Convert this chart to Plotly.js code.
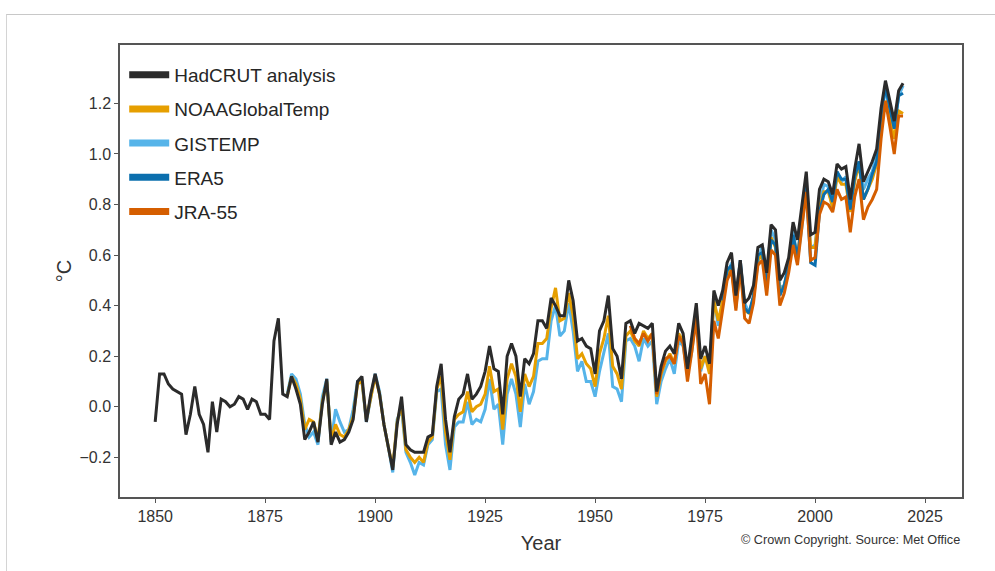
<!DOCTYPE html>
<html>
<head>
<meta charset="utf-8">
<script src="https://cdn.plot.ly/plotly-3.0.1.min.js"></script>
<style>
  html, body { margin: 0; padding: 0; background: #ffffff; }
  #wrap { position: relative; width: 995px; height: 571px; overflow: hidden; }
  #chart { position: absolute; left: 0; top: 0; width: 995px; height: 571px; }
  #edge { position: absolute; left: 6px; top: 14px; right: -2px; bottom: -2px;
          border-top: 1.5px solid #c8c8c8; border-left: 1.5px solid #d4d4d4;
          pointer-events: none; }
</style>
</head>
<body>
<div id="wrap">
  <div id="chart"></div>
  <div id="edge"></div>
</div>
<script>
// Global mean near-surface temperature anomalies (°C, relative to 1850-1900)

const hadcrutStart = 1850;
const hadcrut = [
  -0.06, 0.13, 0.13, 0.09, 0.07, 0.06, 0.05, -0.11, -0.03, 0.08,   // 1850s
  -0.03, -0.07, -0.18, 0.02, -0.10, 0.03, 0.02, 0.00, 0.01, 0.04,  // 1860s
  0.03, -0.01, 0.03, 0.02, -0.03, -0.03, -0.05, 0.26, 0.35, 0.05,  // 1870s
  0.04, 0.12, 0.07, 0.01, -0.13, -0.10, -0.06, -0.14, 0.01, 0.11,  // 1880s
  -0.15, -0.10, -0.14, -0.13, -0.10, -0.05, 0.10, 0.12, -0.06, 0.05, // 1890s
  0.13, 0.05, -0.07, -0.16, -0.25, -0.07, 0.04, -0.15, -0.17, -0.18, // 1900s
  -0.18, -0.18, -0.12, -0.11, 0.08, 0.17, -0.05, -0.18, -0.04, 0.03, // 1910s
  0.05, 0.13, 0.03, 0.05, 0.08, 0.14, 0.24, 0.15, 0.14, -0.03,     // 1920s
  0.20, 0.25, 0.20, 0.04, 0.19, 0.17, 0.21, 0.34, 0.34, 0.31,      // 1930s
  0.43, 0.40, 0.36, 0.36, 0.50, 0.42, 0.26, 0.27, 0.24, 0.23,      // 1940s
  0.13, 0.30, 0.34, 0.44, 0.23, 0.20, 0.11, 0.33, 0.34, 0.29,      // 1950s
  0.33, 0.32, 0.31, 0.33, 0.06, 0.16, 0.22, 0.24, 0.21, 0.33,      // 1960s
  0.29, 0.15, 0.27, 0.41, 0.19, 0.24, 0.17, 0.46, 0.40, 0.46,      // 1970s
  0.57, 0.61, 0.44, 0.58, 0.41, 0.43, 0.48, 0.63, 0.64, 0.53,      // 1980s
  0.72, 0.70, 0.50, 0.53, 0.59, 0.73, 0.66, 0.80, 0.93, 0.68,      // 1990s
  0.69, 0.86, 0.90, 0.89, 0.84, 0.96, 0.94, 0.95, 0.82, 0.94,      // 2000s
  1.04, 0.89, 0.93, 0.97, 1.02, 1.18, 1.29, 1.21, 1.13, 1.25,      // 2010s
  1.28                                                             // 2020
];

const noaaStart = 1880;
const noaa = [
  0.04, 0.12, 0.09, 0.03, -0.09, -0.05, -0.06, -0.13, 0.02, 0.10,  // 1880s
  -0.13, -0.07, -0.11, -0.12, -0.09, -0.04, 0.09, 0.10, -0.05, 0.04, // 1890s
  0.12, 0.05, -0.07, -0.16, -0.24, -0.06, 0.01, -0.17, -0.20, -0.22, // 1900s
  -0.20, -0.22, -0.14, -0.12, 0.07, 0.12, -0.10, -0.21, -0.05, -0.03, // 1910s
  -0.02, 0.06, -0.02, 0.00, 0.01, 0.05, 0.16, 0.06, 0.07, -0.09,   // 1920s
  0.11, 0.17, 0.12, -0.02, 0.13, 0.08, 0.12, 0.25, 0.25, 0.27,     // 1930s
  0.39, 0.47, 0.34, 0.35, 0.45, 0.36, 0.19, 0.21, 0.17, 0.15,      // 1940s
  0.08, 0.21, 0.27, 0.36, 0.16, 0.13, 0.07, 0.28, 0.30, 0.26,      // 1950s
  0.24, 0.30, 0.27, 0.29, 0.04, 0.13, 0.18, 0.21, 0.17, 0.29,      // 1960s
  0.26, 0.14, 0.24, 0.38, 0.15, 0.20, 0.13, 0.42, 0.34, 0.42,      // 1970s
  0.51, 0.55, 0.40, 0.55, 0.38, 0.37, 0.43, 0.58, 0.60, 0.49,      // 1980s
  0.67, 0.63, 0.45, 0.48, 0.55, 0.67, 0.59, 0.74, 0.88, 0.63,      // 1990s
  0.63, 0.79, 0.85, 0.85, 0.79, 0.91, 0.88, 0.88, 0.77, 0.89,      // 2000s
  0.96, 0.82, 0.86, 0.90, 0.96, 1.12, 1.21, 1.14, 1.06, 1.17,      // 2010s
  1.16                                                             // 2020
];

const gistempStart = 1880;
const gistemp = [
  0.05, 0.13, 0.11, 0.05, -0.07, -0.12, -0.10, -0.15, 0.04, 0.11,  // 1880s
  -0.14, -0.01, -0.06, -0.10, -0.09, -0.01, 0.10, 0.10, -0.06, 0.04, // 1890s
  0.13, 0.06, -0.07, -0.16, -0.26, -0.05, -0.01, -0.18, -0.22, -0.27, // 1900s
  -0.22, -0.23, -0.15, -0.13, 0.06, 0.07, -0.15, -0.25, -0.08, -0.06, // 1910s
  -0.06, 0.02, -0.07, -0.05, -0.06, -0.01, 0.11, -0.01, 0.01, -0.15, // 1920s
  0.05, 0.11, 0.05, -0.08, 0.09, 0.01, 0.06, 0.18, 0.19, 0.19,     // 1930s
  0.34, 0.40, 0.28, 0.30, 0.41, 0.30, 0.14, 0.18, 0.10, 0.10,      // 1940s
  0.04, 0.14, 0.22, 0.29, 0.08, 0.07, 0.02, 0.26, 0.27, 0.24,      // 1950s
  0.18, 0.27, 0.24, 0.26, 0.01, 0.10, 0.15, 0.19, 0.13, 0.26,      // 1960s
  0.24, 0.13, 0.22, 0.37, 0.14, 0.20, 0.15, 0.43, 0.32, 0.41,      // 1970s
  0.51, 0.57, 0.39, 0.56, 0.41, 0.37, 0.43, 0.57, 0.64, 0.52,      // 1980s
  0.70, 0.66, 0.47, 0.48, 0.56, 0.70, 0.58, 0.71, 0.86, 0.63,      // 1990s
  0.64, 0.79, 0.88, 0.87, 0.78, 0.93, 0.89, 0.91, 0.79, 0.90,      // 2000s
  0.97, 0.86, 0.90, 0.93, 1.00, 1.15, 1.26, 1.17, 1.10, 1.23,      // 2010s
  1.27                                                             // 2020
];

const era5Start = 1979;
const era5 = [
  0.42,                                                            // 1979
  0.54, 0.56, 0.42, 0.58, 0.39, 0.37, 0.44, 0.60, 0.61, 0.49,      // 1980s
  0.66, 0.64, 0.44, 0.48, 0.56, 0.68, 0.59, 0.74, 0.87, 0.57,      // 1990s
  0.56, 0.77, 0.84, 0.86, 0.81, 0.93, 0.90, 0.90, 0.78, 0.91,      // 2000s
  0.97, 0.82, 0.86, 0.92, 0.97, 1.14, 1.27, 1.18, 1.10, 1.23,      // 2010s
  1.24                                                             // 2020
];

const jra55Start = 1958;
const jra55 = [
  0.32, 0.27,                                                      // 1958-59
  0.25, 0.29, 0.26, 0.29, 0.05, 0.14, 0.19, 0.20, 0.17, 0.28,      // 1960s
  0.25, 0.10, 0.22, 0.35, 0.09, 0.13, 0.01, 0.34, 0.27, 0.39,      // 1970s
  0.50, 0.54, 0.38, 0.55, 0.35, 0.33, 0.41, 0.56, 0.58, 0.44,      // 1980s
  0.62, 0.60, 0.40, 0.45, 0.53, 0.64, 0.56, 0.71, 0.85, 0.58,      // 1990s
  0.59, 0.76, 0.81, 0.80, 0.77, 0.86, 0.82, 0.83, 0.69, 0.83,      // 2000s
  0.90, 0.74, 0.79, 0.82, 0.86, 1.06, 1.21, 1.11, 1.00, 1.15,      // 2010s
  1.15                                                             // 2020
];

const seriesNames = ['HadCRUT analysis', 'NOAAGlobalTemp', 'GISTEMP', 'ERA5', 'JRA-55'];
const xTickVals = [1850, 1875, 1900, 1925, 1950, 1975, 2000, 2025];
const yTickVals = [-0.2, 0.0, 0.2, 0.4, 0.6, 0.8, 1.0, 1.2];

// ---- build traces -------------------------------------------------------
function yearsFrom(start, values) {
  return values.map((_, i) => start + i);
}

const colours = {
  'HadCRUT analysis': '#2b2b2b',
  'NOAAGlobalTemp': '#e69f00',
  'GISTEMP': '#56b4e9',
  'ERA5': '#0b6fae',
  'JRA-55': '#d55e00'
};

const table = {
  'HadCRUT analysis': [hadcrutStart, hadcrut],
  'NOAAGlobalTemp': [noaaStart, noaa],
  'GISTEMP': [gistempStart, gistemp],
  'ERA5': [era5Start, era5],
  'JRA-55': [jra55Start, jra55]
};

// drawing order: the other datasets underneath, HadCRUT on top
const drawOrder = ['GISTEMP', 'NOAAGlobalTemp', 'ERA5', 'JRA-55', 'HadCRUT analysis'];

const traces = drawOrder.map(name => ({
  type: 'scatter',
  mode: 'lines',
  name: name,
  legendgroup: name,
  showlegend: false,
  x: yearsFrom(table[name][0], table[name][1]),
  y: table[name][1],
  line: { color: colours[name], width: 3, shape: 'linear' },
  hoverinfo: 'x+y+name'
}));

// thick swatches for the key, in the published order
seriesNames.forEach((name, i) => {
  traces.push({
    type: 'scatter',
    mode: 'lines',
    name: name,
    legendgroup: name,
    legendrank: i + 1,
    showlegend: true,
    x: [null],
    y: [null],
    line: { color: colours[name], width: 7 },
    hoverinfo: 'skip'
  });
});

const baseFont = 'Liberation Sans, Arial, Helvetica, sans-serif';

const layout = {
  width: 995,
  height: 571,
  margin: { l: 120, r: 33, t: 45, b: 74, pad: 0 },
  paper_bgcolor: '#ffffff',
  plot_bgcolor: '#ffffff',
  font: { family: baseFont, color: '#333333', size: 16 },
  showlegend: true,
  legend: {
    x: 0.005, y: 0.976, xanchor: 'left', yanchor: 'top',
    bgcolor: 'rgba(255,255,255,0)',
    borderwidth: 0,
    font: { family: baseFont, size: 19, color: '#262626' },
    itemwidth: 40,
    tracegroupgap: 6.5,
    traceorder: 'grouped'
  },
  xaxis: {
    range: [1842, 2033.4],
    tickmode: 'array',
    tickvals: xTickVals,
    ticktext: xTickVals.map(String),
    ticks: 'outside', ticklen: 4, tickwidth: 1, tickcolor: '#555555',
    showgrid: false, zeroline: false,
    showline: true, linecolor: '#555555', linewidth: 1.5, mirror: true,
    tickfont: { family: baseFont, size: 16, color: '#333333' },
    title: { text: 'Year', font: { family: baseFont, size: 20, color: '#333333' }, standoff: 12 }
  },
  yaxis: {
    range: [-0.357, 1.431],
    tickmode: 'array',
    tickvals: yTickVals,
    ticktext: yTickVals.map(v => (v < 0 ? '\u2212' : '') + Math.abs(v).toFixed(1)),
    ticks: 'outside', ticklen: 4, tickwidth: 1, tickcolor: '#555555',
    showgrid: false, zeroline: false,
    showline: true, linecolor: '#555555', linewidth: 1.5, mirror: true,
    tickfont: { family: baseFont, size: 16, color: '#333333' },
    title: { text: '°C', font: { family: baseFont, size: 20, color: '#333333' }, standoff: 2 }
  },
  annotations: [{
    xref: 'paper', yref: 'paper',
    x: 1, y: -0.095, xanchor: 'right', yanchor: 'middle',
    text: '© Crown Copyright. Source: Met Office',
    showarrow: false,
    font: { family: baseFont, size: 12.7, color: '#333333' }
  }]
};

Plotly.newPlot('chart', traces, layout, { displayModeBar: false, responsive: false });
</script>
</body>
</html>
